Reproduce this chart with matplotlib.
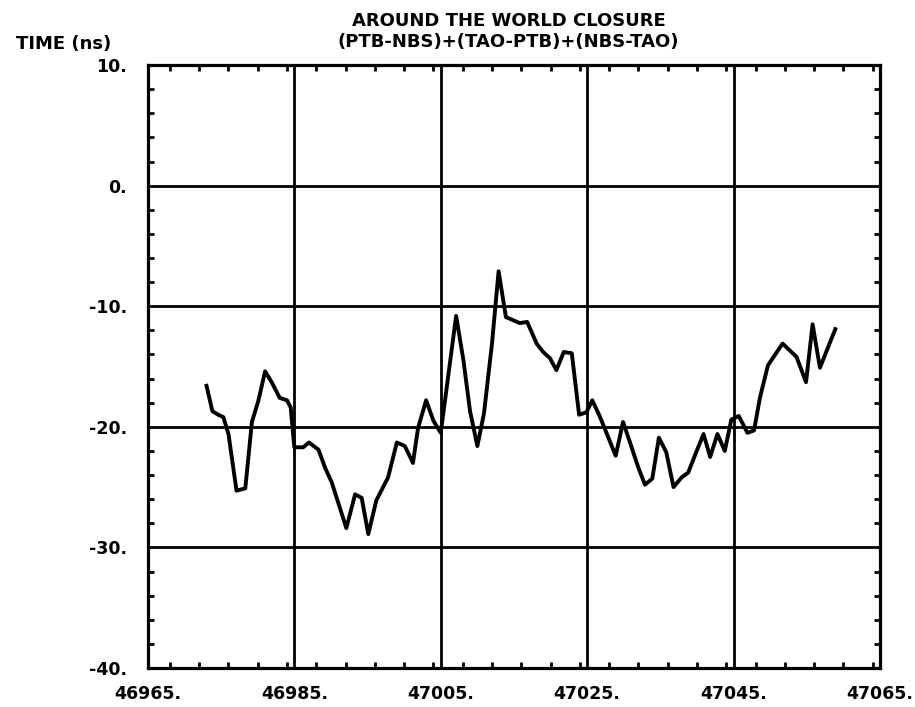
import matplotlib.pyplot as plt
from matplotlib.ticker import MultipleLocator

# MJD and closure values
mjd = [46973.0, 46973.8, 46974.6, 46975.3, 46976.0, 46977.1, 46978.3, 46979.2,
       46980.1, 46981.0, 46981.9, 46983.0, 46984.0, 46984.5, 46985.0, 46985.5,
       46986.2, 46987.0, 46988.3, 46989.2, 46990.1, 46992.1, 46993.3, 46994.2,
       46995.1, 46996.2, 46997.8, 46999.0, 47000.1, 47001.2, 47001.9, 47003.0,
       47004.0, 47005.0, 47007.1, 47008.1, 47009.0, 47010.0, 47010.9, 47012.0,
       47012.9, 47013.9, 47015.8, 47016.8, 47018.1, 47019.0, 47019.9, 47020.8,
       47021.8, 47022.9, 47023.9, 47024.9, 47025.7, 47026.7, 47027.9, 47028.9,
       47029.9, 47030.8, 47032.0, 47032.9, 47033.9, 47034.8, 47035.8, 47036.8,
       47037.9, 47038.8, 47039.9, 47040.9, 47041.8, 47042.8, 47043.8, 47044.7,
       47045.7, 47046.9, 47047.8, 47048.6, 47049.7, 47051.7, 47053.6, 47054.9,
       47055.8, 47056.8, 47058.9]
closure = [-16.6, -18.7, -19.0, -19.2, -20.6, -25.3, -25.1, -19.6,
           -17.8, -15.4, -16.3, -17.6, -17.8, -18.4, -21.7, -21.7,
           -21.7, -21.3, -21.9, -23.4, -24.6, -28.4, -25.6, -25.9,
           -28.9, -26.1, -24.2, -21.3, -21.6, -23.0, -20.1, -17.8,
           -19.5, -20.5, -10.8, -14.5, -18.7, -21.6, -18.9, -13.1,
           -7.1, -10.9, -11.4, -11.3, -13.1, -13.8, -14.3, -15.3,
           -13.8, -13.9, -19.0, -18.8, -17.8, -19.1, -20.9, -22.4,
           -19.6, -21.2, -23.4, -24.8, -24.3, -20.9, -22.1, -25.0,
           -24.2, -23.8, -22.1, -20.6, -22.5, -20.6, -22.0, -19.4,
           -19.1, -20.5, -20.3, -17.6, -14.9, -13.1, -14.2, -16.3,
           -11.5, -15.1, -11.9]

xticks = [46965, 46985, 47005, 47025, 47045, 47065]
yticks = [-40, -30, -20, -10, 0, 10]

plt.rcParams['font.family'] = 'DejaVu Sans'
plt.rcParams['font.weight'] = 'bold'

fig = plt.figure(figsize=(9.15, 7.07), dpi=100)
ax = fig.add_axes([0.1617, 0.0552, 0.8, 0.8528])

ax.plot(mjd, closure, color='black', linewidth=2.8, solid_joinstyle='round', zorder=3)

ax.set_xlim(46965, 47065)
ax.set_ylim(-40, 10)
ax.set_xticks(xticks)
ax.set_yticks(yticks)
ax.set_xticklabels([f'{t}.' for t in xticks])
ax.set_yticklabels([f'{t}.' for t in yticks])
ax.xaxis.set_minor_locator(MultipleLocator(4))
ax.yaxis.set_minor_locator(MultipleLocator(2))
ax.grid(True, which='major', color='black', linewidth=2.0)
ax.tick_params(which='major', length=0, labelsize=12.5)
ax.tick_params(axis='x', which='major', pad=12)
ax.tick_params(axis='y', which='major', pad=15)
ax.tick_params(which='minor', direction='in', length=4, width=2,
               top=True, right=True)
for s in ax.spines.values():
    s.set_linewidth(2.3)

fig.text(0.556, 0.983, 'AROUND THE WORLD CLOSURE', ha='center', va='top',
         fontsize=13, fontweight='bold')
fig.text(0.556, 0.954, '(PTB-NBS)+(TAO-PTB)+(NBS-TAO)', ha='center', va='top',
         fontsize=13, fontweight='bold')
fig.text(0.018, 0.951, 'TIME (ns)', ha='left', va='top',
         fontsize=13, fontweight='bold')

fig.savefig('out.png', dpi=100)
